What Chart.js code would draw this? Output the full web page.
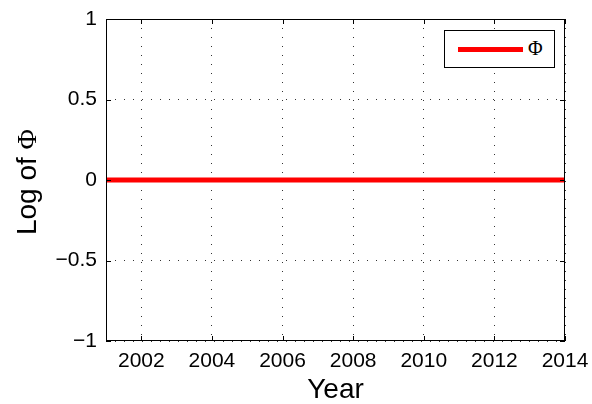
<!DOCTYPE html>
<html>
<head>
<meta charset="utf-8">
<script src="https://cdn.jsdelivr.net/npm/chart.js@4/dist/chart.umd.min.js"></script>
<style>
  html, body { margin: 0; padding: 0; background: #fff; }
  #wrap { position: relative; width: 592px; height: 404px; }
  #legend {
    position: absolute; left: 444px; top: 30px; width: 109px; height: 36px;
    border: 1px solid #000; background: #fff;
  }
  #legend .swatch { position: absolute; left: 13px; top: 16px; width: 65px; height: 5px; }
  #legend .lbl {
    position: absolute; left: 83px; top: 6px;
    font: 20px "Liberation Serif", "DejaVu Serif", serif; color: #000;
  }
</style>
</head>
<body>
<div id="wrap">
  <canvas id="c" width="592" height="404"></canvas>
  <div id="legend"></div>
</div>
<script>
/* ====== Datos ====== */
const years = [2001, 2002, 2003, 2004, 2005, 2006, 2007, 2008, 2009, 2010, 2011, 2012, 2013, 2014];
const logPhi = [0, 0, 0, 0, 0, 0, 0, 0, 0, 0, 0, 0, 0, 0];
const xTicks = [2002, 2004, 2006, 2008, 2010, 2012, 2014];
const yTicks = [-1, -0.5, 0, 0.5, 1];
const seriesLabel = "Φ";
const seriesColor = "#ff0000";

const SANS = '"Liberation Sans", Arial, Helvetica, sans-serif';
const SERIF = '"Liberation Serif", "Times New Roman", serif';

/* ====== Marco estilo MATLAB: caja + ticks hacia dentro + título Y ====== */
const framePlugin = {
  id: "frame",
  afterDraw(chart) {
    const { ctx, chartArea: a, scales } = chart;
    const tl = 5;
    ctx.save();
    ctx.strokeStyle = "#000";
    ctx.lineWidth = 1;
    ctx.strokeRect(a.left + 0.5, a.top + 0.5, a.right - a.left - 1, a.bottom - a.top - 1);

    ctx.beginPath();
    xTicks.forEach((v) => {
      const px = Math.round(scales.x.getPixelForValue(v)) + 0.5;
      ctx.moveTo(px, a.bottom);
      ctx.lineTo(px, a.bottom - tl);
      ctx.moveTo(px, a.top);
      ctx.lineTo(px, a.top + tl);
    });
    yTicks.forEach((v) => {
      const py = Math.round(scales.y.getPixelForValue(v)) + 0.5;
      ctx.moveTo(a.left, py);
      ctx.lineTo(a.left + tl, py);
      ctx.moveTo(a.right, py);
      ctx.lineTo(a.right - tl, py);
    });
    ctx.stroke();

    // Título del eje Y con Φ en serif
    const part1 = "Log of ";
    const part2 = "Φ";
    ctx.fillStyle = "#000";
    ctx.textBaseline = "alphabetic";
    ctx.font = "28px " + SANS;
    const w1 = ctx.measureText(part1).width;
    ctx.font = "28px " + SERIF;
    const w2 = ctx.measureText(part2).width;
    const cy = (a.top + a.bottom) / 2 + 2;
    ctx.translate(36, cy);
    ctx.rotate(-Math.PI / 2);
    const x0 = -(w1 + w2) / 2;
    ctx.font = "28px " + SANS;
    ctx.fillText(part1, x0, 0);
    ctx.font = "28px " + SERIF;
    ctx.fillText(part2, x0 + w1, 0);
    ctx.restore();
  },
};

const fmtY = (v) => (v < 0 ? "\u2212" + Math.abs(v) : String(v));

new Chart(document.getElementById("c"), {
  type: "line",
  data: {
    datasets: [
      {
        label: seriesLabel,
        data: years.map((y, i) => ({ x: y, y: logPhi[i] })),
        borderColor: seriesColor,
        backgroundColor: seriesColor,
        borderWidth: 5,
        pointRadius: 0,
        tension: 0,
      },
    ],
  },
  options: {
    responsive: false,
    animation: false,
    layout: { padding: { left: 0, top: 19, right: 27, bottom: 0 } },
    plugins: { legend: { display: false }, tooltip: { enabled: false } },
    scales: {
      x: {
        type: "linear",
        min: 2001,
        max: 2014,
        afterBuildTicks: (s) => { s.ticks = xTicks.map((v) => ({ value: v })); },
        afterFit: (s) => {
          s.height = 63;
          s.paddingLeft = 0;
          s.paddingRight = 0;
        },
        grid: { color: "#333", lineWidth: 1, drawTicks: false },
        border: { display: false, dash: [1, 8] },
        ticks: {
          color: "#000",
          font: { family: SANS, size: 21 },
          padding: 8,
          maxRotation: 0,
          callback: (v) => String(v),
        },
        title: {
          display: true,
          text: "Year",
          color: "#000",
          font: { family: SANS, size: 28 },
          padding: { top: 0, bottom: -3 },
        },
      },
      y: {
        min: -1,
        max: 1,
        afterBuildTicks: (s) => { s.ticks = yTicks.map((v) => ({ value: v })); },
        afterFit: (s) => {
          s.width = 106;
          s.paddingTop = 0;
          s.paddingBottom = 0;
        },
        grid: { color: "#333", lineWidth: 1, drawTicks: false },
        border: { display: false, dash: [1, 8] },
        ticks: {
          color: "#000",
          font: { family: SANS, size: 21 },
          padding: 9,
          callback: fmtY,
        },
      },
    },
  },
  plugins: [framePlugin],
});

/* ====== Leyenda ====== */
const lg = document.getElementById("legend");
lg.innerHTML = `<div class="swatch" style="background:${seriesColor}"></div><div class="lbl">${seriesLabel}</div>`;
</script>
</body>
</html>
